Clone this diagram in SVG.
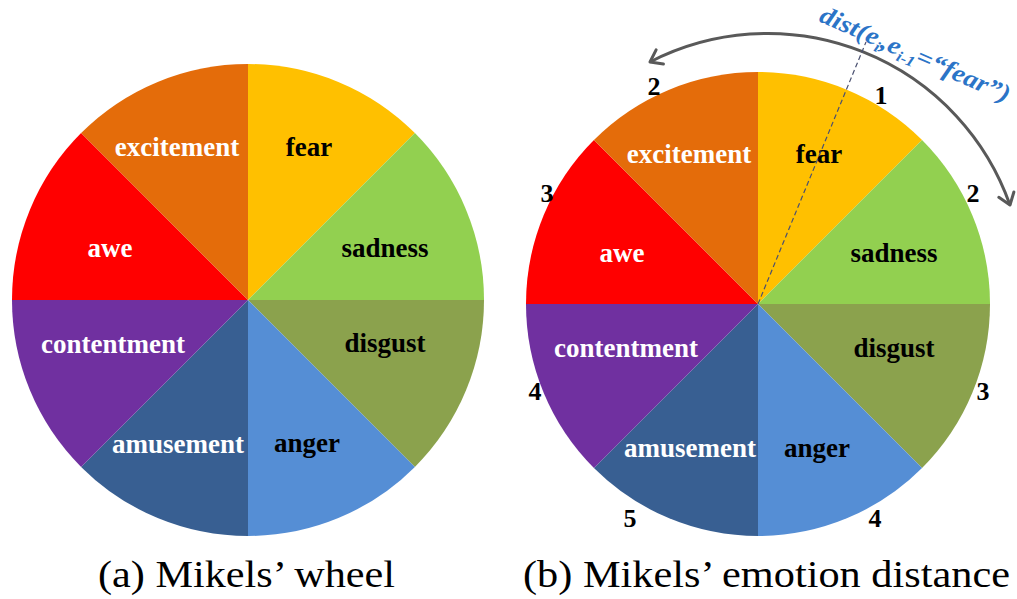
<svg xmlns="http://www.w3.org/2000/svg" width="1017" height="599" viewBox="0 0 1017 599">
<style>
.lbl{font-family:"Liberation Serif","Times New Roman",serif;font-weight:bold;font-size:27px;text-anchor:middle}
.w{fill:#ffffff}
.k{fill:#000000}
.num{font-family:"Liberation Serif","Times New Roman",serif;font-weight:bold;font-size:26px;text-anchor:middle;fill:#000}
.cap{font-family:"Liberation Serif","Times New Roman",serif;font-size:37px;fill:#000}
.fear{fill:#FFC000}.sad{fill:#92D050}.dis{fill:#8BA24D}.ang{fill:#558ED5}
.amu{fill:#385F92}.con{fill:#7030A0}.awe{fill:#FF0000}.exc{fill:#E46C0A}
.dist{font-family:"Liberation Serif","Times New Roman",serif;font-weight:bold;font-style:italic;font-size:25px;fill:#2B74C7}
</style>
<defs>
<marker id="chev" markerUnits="userSpaceOnUse" markerWidth="24" markerHeight="24" viewBox="-14 -12 18 24" refX="0" refY="0" orient="auto-start-reverse">
<path d="M -11 -8 L 0 0 L -11 8" fill="none" stroke="#595959" stroke-width="3" stroke-linecap="round" stroke-linejoin="round"/>
</marker>
</defs>
<rect width="1017" height="599" fill="#ffffff"/>

<g id="wheel-a">
<g id="a-fear"><path class="fear" d="M248 300 L248 64 A236 236 0 0 1 414.9 133.1 Z"/><text class="lbl k" x="309" y="156">fear</text></g>
<g id="a-sadness"><path class="sad" d="M248 300 L414.9 133.1 A236 236 0 0 1 484 300 Z"/><text class="lbl k" x="385" y="257">sadness</text></g>
<g id="a-disgust"><path class="dis" d="M248 300 L484 300 A236 236 0 0 1 414.9 466.9 Z"/><text class="lbl k" x="385" y="352">disgust</text></g>
<g id="a-anger"><path class="ang" d="M248 300 L414.9 466.9 A236 236 0 0 1 248 536 Z"/><text class="lbl k" x="307" y="452">anger</text></g>
<g id="a-amusement"><path class="amu" d="M248 300 L248 536 A236 236 0 0 1 81.1 466.9 Z"/><text class="lbl w" x="178" y="453">amusement</text></g>
<g id="a-contentment"><path class="con" d="M248 300 L81.1 466.9 A236 236 0 0 1 12 300 Z"/><text class="lbl w" x="113" y="353">contentment</text></g>
<g id="a-awe"><path class="awe" d="M248 300 L12 300 A236 236 0 0 1 81.1 133.1 Z"/><text class="lbl w" x="110" y="257">awe</text></g>
<g id="a-excitement"><path class="exc" d="M248 300 L81.1 133.1 A236 236 0 0 1 248 64 Z"/><text class="lbl w" x="177" y="156">excitement</text></g>
</g>

<g id="wheel-b">
<g id="b-fear"><path class="fear" d="M758 304 L758 72 A232 232 0 0 1 922.05 139.95 Z"/><text class="lbl k" x="819" y="163">fear</text></g>
<g id="b-sadness"><path class="sad" d="M758 304 L922.05 139.95 A232 232 0 0 1 990 304 Z"/><text class="lbl k" x="894" y="262">sadness</text></g>
<g id="b-disgust"><path class="dis" d="M758 304 L990 304 A232 232 0 0 1 922.05 468.05 Z"/><text class="lbl k" x="894" y="357">disgust</text></g>
<g id="b-anger"><path class="ang" d="M758 304 L922.05 468.05 A232 232 0 0 1 758 536 Z"/><text class="lbl k" x="817" y="457">anger</text></g>
<g id="b-amusement"><path class="amu" d="M758 304 L758 536 A232 232 0 0 1 593.95 468.05 Z"/><text class="lbl w" x="690" y="457">amusement</text></g>
<g id="b-contentment"><path class="con" d="M758 304 L593.95 468.05 A232 232 0 0 1 526 304 Z"/><text class="lbl w" x="626" y="357">contentment</text></g>
<g id="b-awe"><path class="awe" d="M758 304 L526 304 A232 232 0 0 1 593.95 139.95 Z"/><text class="lbl w" x="622" y="262">awe</text></g>
<g id="b-excitement"><path class="exc" d="M758 304 L593.95 139.95 A232 232 0 0 1 758 72 Z"/><text class="lbl w" x="689" y="163">excitement</text></g>
</g>

<g id="distances">
<text class="num" x="881" y="104">1</text>
<text class="num" x="973" y="202">2</text>
<text class="num" x="983" y="400">3</text>
<text class="num" x="875" y="527">4</text>
<text class="num" x="630" y="527">5</text>
<text class="num" x="535" y="400">4</text>
<text class="num" x="547" y="202">3</text>
<text class="num" x="654" y="95">2</text>
</g>

<g id="connectors">
<path d="M 650 62 A 257 257 0 0 1 1010 205" fill="none" stroke="#595959" stroke-width="3" marker-start="url(#chev)" marker-end="url(#chev)"/>
<line x1="758" y1="304" x2="866" y2="42" stroke="#4A5070" stroke-width="1.2" stroke-dasharray="5 3"/>
</g>

<g id="dist-label">
<text class="dist" transform="translate(818 21) rotate(23.5)" x="0" y="0" textLength="205" lengthAdjust="spacingAndGlyphs">dist(e<tspan font-size="15" dy="5">i</tspan><tspan dy="-5">,e</tspan><tspan font-size="15" dy="5">i-1</tspan><tspan dy="-5">=“fear”)</tspan></text>
</g>

<g id="captions">
<text class="cap" x="98" y="587" textLength="297" lengthAdjust="spacingAndGlyphs">(a) Mikels’ wheel</text>
<text class="cap" x="523" y="587" textLength="487" lengthAdjust="spacingAndGlyphs">(b) Mikels’ emotion distance</text>
</g>
</svg>
